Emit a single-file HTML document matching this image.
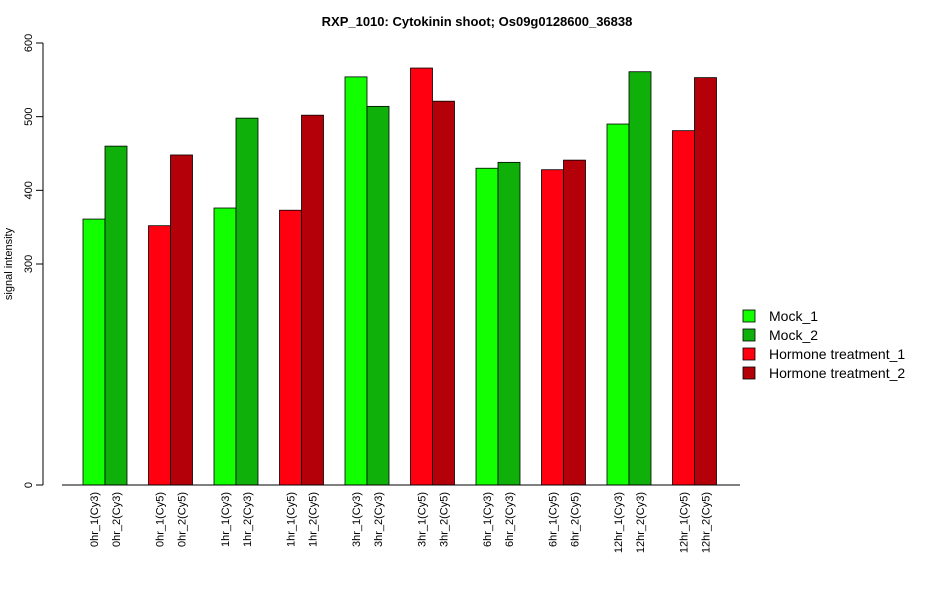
<!DOCTYPE html>
<html><head><meta charset="utf-8"><style>
body{margin:0;background:#fff;font-family:"Liberation Sans",sans-serif}
</style></head><body>
<svg id="chart" width="950" height="600" xmlns="http://www.w3.org/2000/svg" font-family="Liberation Sans, sans-serif">
<text x="477" y="26" text-anchor="middle" font-size="13" font-weight="bold">RXP_1010: Cytokinin shoot; Os09g0128600_36838</text>
<text transform="translate(12,264) rotate(-90)" text-anchor="middle" font-size="11">signal intensity</text>
<g id="yaxis"></g>
<g id="bars"></g>
<g id="xlabels"></g>
<line x1="62" y1="485" x2="740" y2="485" stroke="#000"/>
<g id="legend"></g>
</svg>
<script>
const categories=["0hr_1(Cy3)","0hr_2(Cy3)","0hr_1(Cy5)","0hr_2(Cy5)","1hr_1(Cy3)","1hr_2(Cy3)","1hr_1(Cy5)","1hr_2(Cy5)","3hr_1(Cy3)","3hr_2(Cy3)","3hr_1(Cy5)","3hr_2(Cy5)","6hr_1(Cy3)","6hr_2(Cy3)","6hr_1(Cy5)","6hr_2(Cy5)","12hr_1(Cy3)","12hr_2(Cy3)","12hr_1(Cy5)","12hr_2(Cy5)"];
const values=[361,460,352,448,376,498,373,502,554,514,566,521,430,438,428,441,490,561,481,553];
const seriesIndex=[0,1,2,3,0,1,2,3,0,1,2,3,0,1,2,3,0,1,2,3];
const seriesNames=["Mock_1","Mock_2","Hormone treatment_1","Hormone treatment_2"];
const seriesColors=["#12ff00","#10b00a","#ff0010","#b40008"];
const yTicks=[0,300,400,500,600];
const NS="http://www.w3.org/2000/svg";
const y0=485,y1=43,vmax=600;
function yScale(v){return y0-(v/vmax)*(y0-y1);}
const bw=22,groupStep=65.5,x0=83;
function xScale(i){return x0+Math.floor(i/2)*groupStep+(i%2)*bw;}
function mk(t,a,p){const e=document.createElementNS(NS,t);for(const k in a)e.setAttribute(k,a[k]);p.appendChild(e);return e;}
const ya=document.getElementById('yaxis');
mk('line',{x1:43,y1:yScale(yTicks[0]),x2:43,y2:yScale(yTicks[yTicks.length-1]),stroke:'#000'},ya);
yTicks.forEach(t=>{const y=yScale(t);
const l=mk('line',{x1:36,y1:y,x2:43,y2:y,stroke:'#000'},ya);


const tx=mk('text',{transform:`translate(32,${y}) rotate(-90)`,'text-anchor':'middle','font-size':11},ya);


tx.textContent=t;});
const bg=document.getElementById('bars'),xl=document.getElementById('xlabels');
values.forEach((v,i)=>{const x=xScale(i),y=yScale(v);
const r=mk('rect',{x:x,y:y,width:bw,height:yScale(0)-y,fill:seriesColors[seriesIndex[i]],stroke:'#000','stroke-width':0.8},bg);


const t=mk('text',{transform:`translate(${x+bw/2+4},${492}) rotate(-90)`,'text-anchor':'end','font-size':11},xl);


t.textContent=categories[i];});
const lg=document.getElementById('legend');
seriesNames.forEach((n,i)=>{const y=310+i*19;
const r=mk('rect',{x:743,y:y,width:12,height:12,fill:seriesColors[i],stroke:'#000','stroke-width':0.8},lg);


const t=mk('text',{x:769,y:y+11,'font-size':14},lg);


t.textContent=n;});
</script>
</body></html>
